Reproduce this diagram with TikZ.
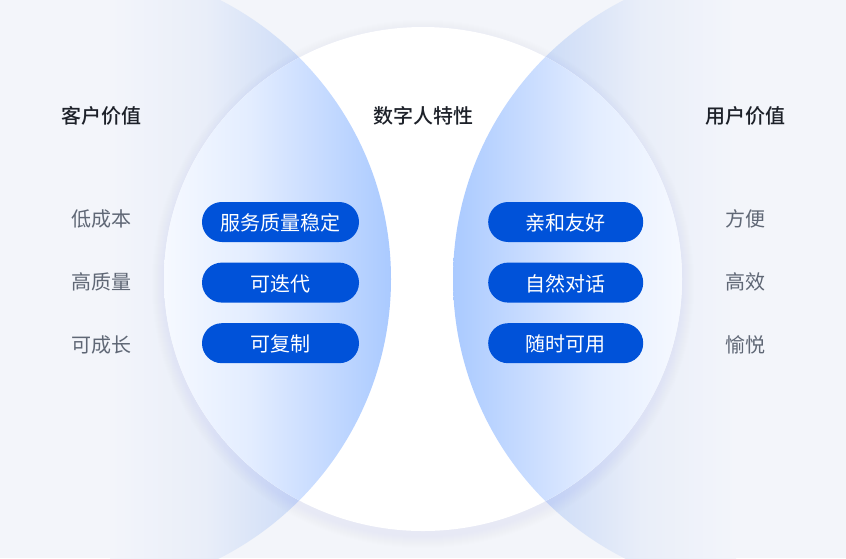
\documentclass[tikz,border=0pt]{standalone}
\usepackage{fontspec}
\setmainfont{Noto Sans CJK SC}
\newfontfamily\headfont{Noto Sans CJK SC Medium}
\definecolor{pagebg}{HTML}{F3F5FA}
\definecolor{pillblue}{HTML}{0052D9}
\definecolor{headink}{HTML}{1D2129}
\definecolor{labelink}{HTML}{5F6775}
\definecolor{glowblue}{HTML}{7FA8F5}
\definecolor{oa}{HTML}{F3F5FA}
\definecolor{ob}{HTML}{E9EEF9}
\definecolor{oc}{HTML}{CDDCF7}
\definecolor{ia}{HTML}{F6F9FF}
\definecolor{ib}{HTML}{E3EDFF}
\definecolor{ic}{HTML}{CFE0FF}
\definecolor{id}{HTML}{AACAFF}
\pgfdeclarehorizontalshading{outerL}{100bp}{color(0bp)=(oa);color(25bp)=(oa);color(50bp)=(ob);color(75bp)=(oc);color(100bp)=(oc)}
\pgfdeclarehorizontalshading{outerR}{100bp}{color(0bp)=(oc);color(25bp)=(oc);color(50bp)=(ob);color(75bp)=(oa);color(100bp)=(oa)}
\pgfdeclarehorizontalshading{innerL}{100bp}{color(0bp)=(ia);color(25bp)=(ia);color(43.9bp)=(ib);color(55bp)=(ic);color(75bp)=(id);color(100bp)=(id)}
\pgfdeclarehorizontalshading{innerR}{100bp}{color(0bp)=(id);color(25bp)=(id);color(44.9bp)=(ic);color(55.8bp)=(ib);color(75bp)=(ia);color(100bp)=(ia)}
\tikzset{
  heading/.style={font=\headfont\fontsize{20}{24}\selectfont,text=headink,inner sep=0pt},
  sidelabel/.style={font=\fontsize{20}{24}\selectfont,text=labelink,inner sep=0pt},
  pill/.style={fill=pillblue,text=white,font=\fontsize{20}{24}\selectfont,rounded corners=19.9pt,minimum height=40pt,inner sep=0pt,text height=18.2pt,text depth=1pt},
  pillL/.style={pill,minimum width=157pt},
  pillR/.style={pill,minimum width=155pt},
  centreshape/.style={x radius=259pt,y radius=252pt},
}
\begin{document}
\begin{tikzpicture}[x=1pt,y=-1pt]
\useasboundingbox (0,0) rectangle (846,558);
\fill[pagebg] (0,0) rectangle (846,558);
\begin{scope}
  \clip (0,0) rectangle (846,558);
  % outer parts of the two side circles
  \begin{scope}
    \clip (78,279) circle[radius=313pt];
    \shade[shading=outerL] (110,-10) rectangle (300,568);
    \fill[oc] (300,-10) rectangle (400,568);
  \end{scope}
  \begin{scope}
    \clip (766,279) circle[radius=313pt];
    \shade[shading=outerR] (546,-10) rectangle (736,568);
    \fill[oc] (440,-10) rectangle (546,568);
  \end{scope}
  % soft glow round the centre circle
  \foreach \g in {12,11,...,1}{
    \fill[glowblue,opacity=0.008] (423,284) ellipse[x radius=259pt+\g pt,y radius=252pt+\g pt];
  }
  % centre circle
  \fill[white] (423,279) ellipse[centreshape];
  % overlaps
  \begin{scope}
    \clip (423,279) ellipse[centreshape];
    \clip (78,279) circle[radius=313pt];
    \shade[shading=innerL] (164,-10) rectangle (391,568);
  \end{scope}
  \begin{scope}
    \clip (423,279) ellipse[centreshape];
    \clip (766,279) circle[radius=313pt];
    \shade[shading=innerR] (453,-10) rectangle (682,568);
  \end{scope}
\end{scope}
% headings
\node[heading] (h1) at (101,115.5) {客户价值};
\node[heading] (h2) at (423,115.5) {数字人特性};
\node[heading] (h3) at (745,115.5) {用户价值};
% side labels
\node[sidelabel] (l1) at (101,219) {低成本};
\node[sidelabel] (l2) at (101,282) {高质量};
\node[sidelabel] (l3) at (101,345) {可成长};
\node[sidelabel] (r1) at (745,219) {方便};
\node[sidelabel] (r2) at (745,282) {高效};
\node[sidelabel] (r3) at (745,345) {愉悦};
% pills
\node[pillL] (p1) at (280.5,222) {服务质量稳定};
\node[pillL] (p2) at (280.5,282.6) {可迭代};
\node[pillL] (p3) at (280.5,343.2) {可复制};
\node[pillR] (q1) at (565.7,222) {亲和友好};
\node[pillR] (q2) at (565.7,282.6) {自然对话};
\node[pillR] (q3) at (565.7,343.2) {随时可用};
\end{tikzpicture}
\end{document}
